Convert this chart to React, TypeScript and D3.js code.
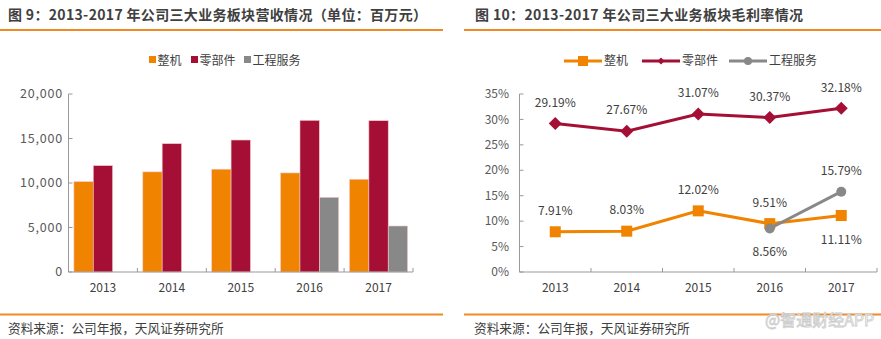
import React from "react";
import * as d3 from "d3";

const years = ["2013", "2014", "2015", "2016", "2017"];
const revMachine = [10150, 11250, 11550, 11130, 10420];
const revParts = [11950, 14420, 14830, 17040, 17000];
const revService: (number | null)[] = [null, null, null, 8390, 5170];
const revTicks = [0, 5000, 10000, 15000, 20000];

const gmMachine = [7.91, 8.03, 12.02, 9.51, 11.11];
const gmParts = [29.19, 27.67, 31.07, 30.37, 32.18];
const gmService: (number | null)[] = [null, null, null, 8.56, 15.79];
const gmTicks = [0, 5, 10, 15, 20, 25, 30, 35];

const seriesNames = ["整机", "零部件", "工程服务"];
const colors = ["#F08300", "#A50F35", "#888888"];
const title1 = "图 9：2013-2017 年公司三大业务板块营收情况（单位：百万元）";
const title2 = "图 10：2013-2017 年公司三大业务板块毛利率情况";
const source = "资料来源：公司年报，天风证券研究所";

const FONT = "'Noto Sans CJK SC', 'Noto Sans', sans-serif";
const ORANGE = "#F08A24";
const AXIS = "#999999";
const TXT = "#404040";

function BarChart() {
  const x0 = 68.5, x1 = 413, yTop = 94, yBot = 272;
  const x = d3.scaleBand().domain(years).range([x0, x1]).paddingInner(0).paddingOuter(0);
  const inner = d3.scaleBand().domain(["0", "1", "2"]).range([0, x.bandwidth()]).paddingInner(0).paddingOuter(0.28);
  const y = d3.scaleLinear().domain([0, 20000]).range([yBot, yTop]);
  const data = [revMachine, revParts, revService];
  const bounds = d3.range(years.length + 1).map((i) => x0 + i * x.bandwidth());
  return (
    <g>
      {data.map((s, si) =>
        s.map((v, i) =>
          v == null ? null : (
            <rect key={si + "-" + i} x={(x(years[i]) as number) + (inner(String(si)) as number)} y={y(v)}
              width={inner.bandwidth()} height={yBot - y(v)} fill={colors[si]} stroke="#f3c9c9" strokeWidth={0.6} />
          )
        )
      )}
      <line x1={x0} x2={x0} y1={yTop} y2={yBot} stroke={AXIS} />
      <line x1={x0} x2={x1} y1={yBot} y2={yBot} stroke={AXIS} />
      {revTicks.map((t) => (
        <g key={t}>
          <line x1={x0} x2={x0 + 4} y1={y(t)} y2={y(t)} stroke={AXIS} />
          <text x={63} y={y(t)} dy="0.35em" textAnchor="end" fontSize={12.5} letterSpacing={0.8} fill="#595959">{d3.format(",")(t)}</text>
        </g>
      ))}
      {bounds.map((b, i) => (
        <line key={i} x1={b} x2={b} y1={yBot} y2={yBot - 4} stroke={AXIS} />
      ))}
      {years.map((yr) => (
        <text key={yr} x={(x(yr) as number) + x.bandwidth() / 2} y={288} dy="0.35em" textAnchor="middle" fontSize={12} fill={TXT}>{yr}</text>
      ))}
      {/* legend */}
      {[149, 191, 244].map((lx, i) => (
        <g key={i}>
          <rect x={lx} y={56} width={7} height={7} fill={colors[i]} />
          <text x={lx + 8.5} y={61} dy="0.35em" fontSize={12} fill={TXT}>{seriesNames[i]}</text>
        </g>
      ))}
    </g>
  );
}

function LineChart() {
  const x0 = 519.5, x1 = 877, yTop = 94, yBot = 272;
  const x = d3.scaleBand().domain(years).range([x0, x1]);
  const y = d3.scaleLinear().domain([0, 35]).range([yBot, yTop]);
  const cx = (i: number) => (x(years[i]) as number) + x.bandwidth() / 2;
  const line = d3.line<[number, number]>().x((d) => d[0]).y((d) => d[1]);
  const pts = (s: (number | null)[]) =>
    s.map((v, i) => (v == null ? null : ([cx(i), y(v)] as [number, number]))).filter((d) => d) as [number, number][];
  const fmt = (v: number) => v.toFixed(2) + "%";
  const bounds = d3.range(years.length + 1).map((i) => x0 + i * x.bandwidth());
  const diamond = (px: number, py: number, r: number) => `M${px},${py - r}L${px + r},${py}L${px},${py + r}L${px - r},${py}Z`;
  const machineOff = [-21, -21, -21, -21, 24];
  const serviceOff = [0, 0, 0, 23, -21];
  return (
    <g>
      <line x1={x0} x2={x0} y1={yTop} y2={yBot} stroke={AXIS} />
      <line x1={x0} x2={x1} y1={yBot} y2={yBot} stroke={AXIS} />
      {gmTicks.map((t) => (
        <g key={t}>
          <line x1={x0} x2={x0 + 4} y1={y(t)} y2={y(t)} stroke={AXIS} />
          <text x={509} y={y(t)} dy="0.35em" textAnchor="end" fontSize={12} fill="#595959">{t + "%"}</text>
        </g>
      ))}
      {bounds.map((b, i) => (
        <line key={i} x1={b} x2={b} y1={yBot} y2={yBot - 4} stroke={AXIS} />
      ))}
      {years.map((yr, i) => (
        <text key={yr} x={cx(i)} y={288} dy="0.35em" textAnchor="middle" fontSize={12} fill={TXT}>{yr}</text>
      ))}
      <path d={line(pts(gmParts)) || ""} fill="none" stroke={colors[1]} strokeWidth={3} />
      {pts(gmParts).map((p, i) => <path key={i} d={diamond(p[0], p[1], 6.5)} fill={colors[1]} />)}
      <path d={line(pts(gmMachine)) || ""} fill="none" stroke={colors[0]} strokeWidth={3} />
      {pts(gmMachine).map((p, i) => <rect key={i} x={p[0] - 5.5} y={p[1] - 5.5} width={11} height={11} fill={colors[0]} />)}
      <path d={line(pts(gmService)) || ""} fill="none" stroke={colors[2]} strokeWidth={3} />
      {pts(gmService).map((p, i) => <circle key={i} cx={p[0]} cy={p[1]} r={5} fill={colors[2]} />)}
      {gmParts.map((v, i) => (
        <text key={"p" + i} x={cx(i)} y={y(v) - 21} dy="0.35em" textAnchor="middle" fontSize={12} fill={TXT}>{fmt(v)}</text>
      ))}
      {gmMachine.map((v, i) => (
        <text key={"m" + i} x={cx(i)} y={y(v) + machineOff[i]} dy="0.35em" textAnchor="middle" fontSize={12} fill={TXT}>{fmt(v)}</text>
      ))}
      {gmService.map((v, i) =>
        v == null ? null : (
          <text key={"s" + i} x={cx(i)} y={y(v) + serviceOff[i]} dy="0.35em" textAnchor="middle" fontSize={12} fill={TXT}>{fmt(v)}</text>
        )
      )}
      {/* legend */}
      {[564, 642, 729].map((lx, i) => (
        <g key={i}>
          <line x1={lx} x2={lx + 38} y1={61} y2={61} stroke={colors[i]} strokeWidth={3} />
          {i === 0 && <rect x={lx + 19 - 5} y={56} width={10} height={10} fill={colors[0]} />}
          {i === 1 && <path d={diamond(lx + 19, 61, 3.5)} fill={colors[1]} />}
          {i === 2 && <circle cx={lx + 19} cy={61} r={4} fill={colors[2]} />}
          <text x={lx + 40} y={61} dy="0.35em" fontSize={12} fill={TXT}>{seriesNames[i]}</text>
        </g>
      ))}
    </g>
  );
}

export default function App() {
  return (
    <svg width={881} height={339} style={{ position: "absolute", left: 0, top: 0, background: "#fff" }} fontFamily={FONT}>
      <rect width={881} height={339} fill="#fff" />
      <text x={8} y={15} dy="0.35em" fontSize={14} fontWeight="bold" fill={TXT} textLength={419} lengthAdjust="spacing">{title1}</text>
      <text x={475} y={15} dy="0.35em" fontSize={14} fontWeight="bold" fill={TXT} textLength={328} lengthAdjust="spacing">{title2}</text>
      <line x1={0} x2={443} y1={30} y2={30} stroke={ORANGE} strokeWidth={2} />
      <line x1={464} x2={881} y1={30} y2={30} stroke={ORANGE} strokeWidth={2} />
      <line x1={0} x2={443} y1={314.5} y2={314.5} stroke={ORANGE} strokeWidth={2} />
      <line x1={464} x2={881} y1={314.5} y2={314.5} stroke={ORANGE} strokeWidth={2} />
      <BarChart />
      <LineChart />
      <text x={8} y={329} dy="0.35em" fontSize={12.7} fill={TXT}>{source}</text>
      <text x={474} y={329} dy="0.35em" fontSize={12.7} fill={TXT}>{source}</text>
      <text x={765} y={320} dy="0.35em" fontSize={16} fill="#ffffff" stroke="#cccccc" strokeWidth={0.8}>@智通财经APP</text>
    </svg>
  );
}
